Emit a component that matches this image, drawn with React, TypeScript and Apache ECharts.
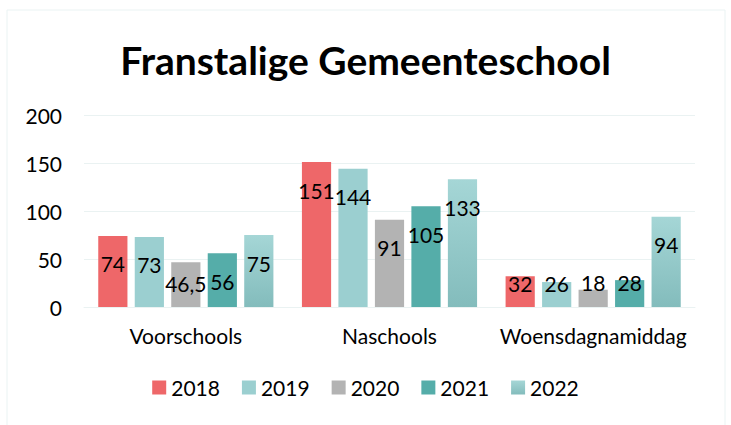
import React, { useEffect, useRef } from "react";
import * as echarts from "echarts";

const categories = ["Voorschools", "Naschools", "Woensdagnamiddag"];
const years = ["2018", "2019", "2020", "2021", "2022"];
const values2018 = [74, 151, 32];
const values2019 = [73, 144, 26];
const values2020 = [46.5, 91, 18];
const values2021 = [56, 105, 28];
const values2022 = [75, 133, 94];
const yTicks = { min: 0, max: 200, interval: 50 };

const FONT = "Lato, 'Open Sans', sans-serif";

export default function App() {
  const ref = useRef<HTMLDivElement>(null);
  useEffect(() => {
    if (!ref.current) return;
    const chart = echarts.init(ref.current, undefined, { renderer: "svg" });
    const grad = new echarts.graphic.LinearGradient(0, 0, 0, 1, [
      { offset: 0, color: "#A5D6D6" },
      { offset: 1, color: "#83BCBC" },
    ]);
    const colors: any[] = ["#EE6769", "#9BCFD0", "#B3B3B3", "#55ADA9", grad];
    const all = [values2018, values2019, values2020, values2021, values2022];
    const mkData = (arr: number[]) =>
      arr.map((v) => {
        const off = Math.min(29.2, v - 25);
        return {
          value: v,
          label: { position: ["50%", ((off / v) * 100).toFixed(2) + "%"] },
        };
      });
    chart.setOption({
      animation: false,
      textStyle: { fontFamily: FONT },
      title: {
        text: "Franstalige Gemeenteschool",
        left: "center",
        top: 35,
        textStyle: { fontSize: 39, fontWeight: "bold", color: "#000", fontFamily: FONT },
      },
      graphic: [
        {
          type: "rect",
          shape: { x: 7, y: 10, width: 718, height: 430 },
          style: { fill: "none", stroke: "#EAF3F3", lineWidth: 1 },
          silent: true,
        },
      ],
      legend: {
        bottom: 22,
        left: "center",
        itemWidth: 14,
        itemHeight: 14,
        itemGap: 22,
        icon: "rect",
        textStyle: { fontSize: 21, color: "#000", fontFamily: FONT },
        data: years,
      },
      grid: { left: 84, right: 36, top: 115, bottom: 118 },
      xAxis: {
        type: "category",
        data: categories,
        axisTick: { show: false },
        axisLine: { lineStyle: { color: "#EAF2F2" } },
        axisLabel: { fontSize: 21, color: "#000", margin: 18, interval: 0, fontFamily: FONT },
      },
      yAxis: {
        type: "value",
        min: yTicks.min,
        max: yTicks.max,
        interval: yTicks.interval,
        axisLabel: { fontSize: 21, color: "#000", margin: 22, fontFamily: FONT },
        splitLine: { lineStyle: { color: "#EAF2F2" } },
        axisLine: { show: false },
      },
      series: years.map((y, i) => ({
        name: y,
        type: "bar",
        barCategoryGap: "14%",
        barGap: "25%",
        itemStyle: { color: colors[i] },
        data: mkData(all[i]),
        label: {
          show: true,
          align: "center",
          verticalAlign: "middle",
          fontSize: 21,
          color: "#000",
          fontFamily: FONT,
          formatter: (p: any) => String(p.value).replace(".", ","),
        },
      })),
    });
    return () => chart.dispose();
  }, []);
  return (
    <div
      ref={ref}
      style={{ position: "fixed", left: 0, top: 0, width: 731, height: 425, background: "#fff" }}
    />
  );
}
